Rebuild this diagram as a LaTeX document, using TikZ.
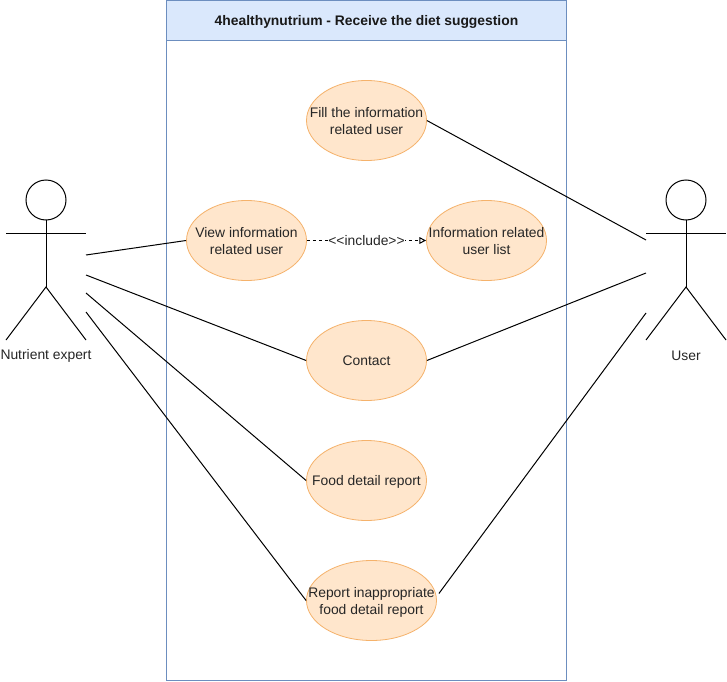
\documentclass[tikz,border=0pt]{standalone}
\usepackage{fontspec}
\setmainfont{Liberation Sans}
\usetikzlibrary{shapes.geometric,arrows.meta}
\definecolor{ucfill}{HTML}{FFE6CC}
\definecolor{ucline}{HTML}{F5B26B}
\definecolor{boxfill}{HTML}{DAE8FC}
\definecolor{boxline}{HTML}{6C8EBF}
\tikzset{
  x=0.75pt,y=-0.75pt,
  usecase/.style={ellipse,draw=ucline,fill=ucfill,line width=0.6pt,minimum width=90pt,minimum height=60pt,inner xsep=-40pt,inner ysep=-25pt,align=center,font=\fontsize{10.4pt}{12.75pt}\selectfont,text=black!85},
  twoline/.style={text height=21pt,text depth=0pt},
  oneline/.style={text height=8.9pt,text depth=2pt},
  link/.style={draw=black,line width=0.75pt},
  actorline/.style={draw=black,line width=0.75pt},
  actorlabel/.style={font=\fontsize{10.4pt}{12pt}\selectfont,text=black!85,inner sep=0pt},
}
\newcommand{\stickman}[1]{%
  \draw[actorline] (#1,200) circle[radius=15pt];
  \draw[actorline] (#1,220) -- (#1,287);
  \draw[actorline] (#1-40,233) -- (#1+40,233);
  \draw[actorline] (#1-40,340) -- (#1,287) -- (#1+40,340);
}
\begin{document}
\begin{tikzpicture}
\useasboundingbox (0,0) rectangle (727,681);
\draw[boxline,fill=white,line width=0.75pt] (166.5,40.5) rectangle (566.5,680.5);
\node[draw=boxline,fill=boxfill,line width=0.75pt,minimum width=300pt,minimum height=30pt,inner sep=0pt,oneline,font=\bfseries\fontsize{10.4pt}{12pt}\selectfont,text=black!90] (title) at (366.5,20.5) {4healthynutrium - Receive the diet suggestion};
\stickman{46}
\stickman{686}
\node[actorlabel] (lblexpert) at (46,356) {Nutrient expert};
\node[actorlabel] (lbluser) at (686,356) {User};
\node[usecase,twoline] (fill) at (366.5,120.5) {Fill the information\\related user};
\node[usecase,twoline] (view) at (246.5,240.5) {View information\\related user};
\node[usecase,twoline] (list) at (486.5,240.5) {Information related\\user list};
\node[usecase] (contact) at (366.5,360.5) {Contact};
\node[usecase,oneline] (food) at (366.5,480.5) {Food detail report};
\node[usecase,twoline,minimum width=97.5pt] (report) at (371.5,600.5) {Report inappropriate\\food detail report};
\coordinate (e1) at (86,255);
\coordinate (e2) at (86,275);
\coordinate (e3) at (86,293);
\coordinate (e4) at (86,312);
\coordinate (u1) at (646,240);
\coordinate (u2) at (646,273);
\coordinate (u3) at (646,313);
\draw[link] (e1) -- (view.west);
\draw[link] (e2) -- (contact.west);
\draw[link] (e3) -- (food.west);
\draw[link] (e4) -- (report.west);
\draw[link] (fill.east) -- (u1);
\draw[link] (contact.east) -- (u2);
\draw[link] ([shift={(2,-7)}]report.east) -- (u3);
\draw[link,dash pattern=on 2.25pt off 2.25pt,-{Triangle[open,length=5pt,width=5pt]}] (view.east) -- node[fill=white,inner sep=0.5pt,font=\fontsize{10.4pt}{12pt}\selectfont,text=black!85] {<{}<include>{}>} (list.west);
\end{tikzpicture}
\end{document}
